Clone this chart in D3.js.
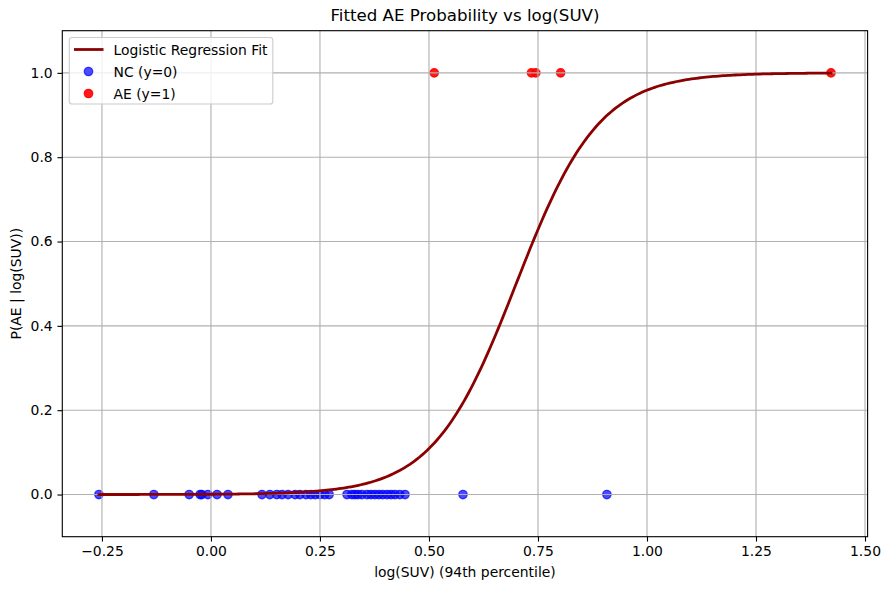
<!DOCTYPE html>
<html>
<head>
<meta charset="utf-8">
<script src="https://cdn.jsdelivr.net/npm/d3@7/dist/d3.min.js"></script>
<style>
  html, body { margin: 0; padding: 0; background: #fff; }
  svg { display: block; font-family: "DejaVu Sans", sans-serif; }
</style>
</head>
<body>
<svg id="chart" width="889" height="590"></svg>
<script>
// ---- data ----
const ncX = [-0.257, -0.131, -0.050, -0.025, -0.021, -0.007, 0.014, 0.039,
  0.117, 0.135, 0.151, 0.163, 0.177, 0.193, 0.204, 0.218, 0.229, 0.239, 0.250,
  0.261, 0.271, 0.312, 0.323, 0.330, 0.337, 0.346, 0.358, 0.367, 0.376, 0.385,
  0.394, 0.404, 0.413, 0.422, 0.433, 0.445, 0.578, 0.908];
const aeX = [0.512, 0.735, 0.745, 0.802, 1.422];
// fitted logistic coefficients (estimated from the drawn curve)
const intercept = -7.35;
const slope = 10.5;
const xTicks = [-0.25, 0.00, 0.25, 0.50, 0.75, 1.00, 1.25, 1.50];
const yTicks = [0.0, 0.2, 0.4, 0.6, 0.8, 1.0];
const legendLabels = ["Logistic Regression Fit", "NC (y=0)", "AE (y=1)"];
const titleText = "Fitted AE Probability vs log(SUV)";
const xLabel = "log(SUV) (94th percentile)";
const yLabel = "P(AE | log(SUV))";

// ---- layout ----
const W = 889, H = 590;
const L = 62.3, R = 867.6, T = 30.7, B = 536.7;
const svg = d3.select("#chart");

const allX = ncX.concat(aeX);
const xmin = d3.min(allX), xmax = d3.max(allX);
const pad = (xmax - xmin) * 0.05;
const x = d3.scaleLinear().domain([xmin - pad, xmax + pad]).range([L, R]);
const y = d3.scaleLinear().domain([-0.1, 1.1]).range([B, T]);

// fit curve sampled across the data range
const nCurve = 300;
const curveX = d3.range(nCurve).map(i => xmin + (xmax - xmin) * i / (nCurve - 1));
const prob = v => 1 / (1 + Math.exp(-(intercept + slope * v)));

const fs = 13.9;
const mr = 4.17, mew = 1.39;

// background
svg.append("rect").attr("width", W).attr("height", H).attr("fill", "#fff");

function marker(sel, color, alpha) {
  sel.attr("r", mr).attr("fill", color).attr("fill-opacity", alpha)
    .attr("stroke", color).attr("stroke-opacity", alpha).attr("stroke-width", mew);
}

// scatter (below grid like matplotlib collections)
const gPts = svg.append("g");
gPts.selectAll("circle.nc").data(ncX).enter().append("circle")
  .attr("cx", d => x(d)).attr("cy", y(0)).call(marker, "#0000ff", 0.7);
gPts.selectAll("circle.ae").data(aeX).enter().append("circle")
  .attr("cx", d => x(d)).attr("cy", y(1)).call(marker, "#ff0000", 0.9);

// grid
const gGrid = svg.append("g");
gGrid.selectAll("line.gx").data(xTicks).enter().append("line")
  .attr("x1", d => x(d)).attr("x2", d => x(d)).attr("y1", T).attr("y2", B)
  .attr("stroke", "#b0b0b0").attr("stroke-width", 1.11);
gGrid.selectAll("line.gy").data(yTicks).enter().append("line")
  .attr("x1", L).attr("x2", R).attr("y1", d => y(d)).attr("y2", d => y(d))
  .attr("stroke", "#b0b0b0").attr("stroke-width", 1.11);

// fit line
svg.append("path")
  .datum(curveX)
  .attr("d", d3.line().x(d => x(d)).y(d => y(prob(d))))
  .attr("fill", "none").attr("stroke", "#8b0000").attr("stroke-width", 2.78)
  .attr("stroke-linejoin", "round").attr("stroke-linecap", "square");

// axes
const xAxis = d3.axisBottom(x).tickValues(xTicks).tickFormat(d3.format(".2f"))
  .tickSizeInner(4.86).tickSizeOuter(0).tickPadding(4.8);
const yAxis = d3.axisLeft(y).tickValues(yTicks).tickFormat(d3.format(".1f"))
  .tickSizeInner(4.86).tickSizeOuter(0).tickPadding(4.8);
const gx = svg.append("g").attr("transform", `translate(0,${B})`).call(xAxis);
const gy = svg.append("g").attr("transform", `translate(${L},0)`).call(yAxis);
[gx, gy].forEach(g => {
  g.select(".domain").remove();
  g.selectAll("line").attr("stroke", "#000").attr("stroke-width", 1.11);
  g.selectAll("text").attr("font-size", fs).attr("fill", "#000")
    .attr("font-family", "DejaVu Sans, sans-serif");
});
gx.selectAll("text").text(d => d3.format(".2f")(d).replace("-", "\u2212"));

// spines
svg.append("rect").attr("x", L).attr("y", T).attr("width", R - L).attr("height", B - T)
  .attr("fill", "none").attr("stroke", "#000").attr("stroke-width", 1.11);

// title and labels
svg.append("text").attr("x", (L + R) / 2).attr("y", T - 9.5)
  .attr("text-anchor", "middle").attr("font-size", 16.67).text(titleText);
svg.append("text").attr("x", (L + R) / 2).attr("y", 577)
  .attr("text-anchor", "middle").attr("font-size", fs).text(xLabel);
svg.append("text").attr("transform", `translate(21,${(T + B) / 2}) rotate(-90)`)
  .attr("text-anchor", "middle").attr("font-size", fs).text(yLabel);

// legend
const lg = svg.append("g");
lg.append("rect").attr("x", 69.3).attr("y", 37.5).attr("width", 203.5).attr("height", 66.5)
  .attr("rx", 2.8).attr("fill", "#fff").attr("fill-opacity", 0.8)
  .attr("stroke", "#cccccc").attr("stroke-width", 1.11);
const rowY = [49.5, 71.5, 93.5];
lg.append("line").attr("x1", 74).attr("x2", 103.5).attr("y1", rowY[0]).attr("y2", rowY[0])
  .attr("stroke", "#8b0000").attr("stroke-width", 2.78);
lg.append("circle").attr("cx", 88.5).attr("cy", rowY[1]).call(marker, "#0000ff", 0.7);
lg.append("circle").attr("cx", 88.5).attr("cy", rowY[2]).call(marker, "#ff0000", 0.9);
lg.selectAll("text.lt").data(legendLabels).enter().append("text")
  .attr("x", 113.5).attr("y", (d, i) => rowY[i] + 5)
  .attr("font-size", fs).text(d => d);
</script>
</body>
</html>
